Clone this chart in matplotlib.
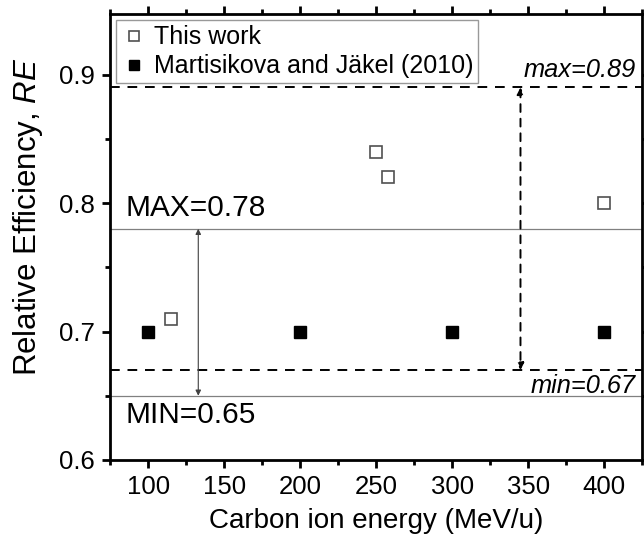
import matplotlib
matplotlib.use("Agg")
import matplotlib.pyplot as plt
from matplotlib.ticker import MultipleLocator

plt.rcParams["font.family"] = ["Liberation Sans", "DejaVu Sans"]
plt.rcParams["mathtext.fontset"] = "custom"
plt.rcParams["mathtext.rm"] = "Liberation Sans"
plt.rcParams["mathtext.it"] = "Liberation Sans:italic"

# ── Data ───────────────────────────────────────────────────────
this_energy = [115, 250, 258, 400]
this_re     = [0.71, 0.84, 0.82, 0.80]
mj_energy   = [100, 200, 300, 400]
mj_re       = [0.70, 0.70, 0.70, 0.70]

MAX_SOLID, MIN_SOLID = 0.78, 0.65
MAX_DASH,  MIN_DASH  = 0.89, 0.67
ARROW_SOLID_X = 133
ARROW_DASH_X  = 345

# ── Figure ─────────────────────────────────────────────────────
fig = plt.figure(figsize=(6.44, 5.45), dpi=100)
ax = fig.add_axes([0.171, 0.156, 0.826, 0.818])

ax.axhline(MAX_DASH, color="black", lw=1.4, ls=(0, (5, 4)), zorder=1)
ax.axhline(MIN_DASH, color="black", lw=1.4, ls=(0, (5, 4)), zorder=1)
ax.axhline(MAX_SOLID, color="#808080", lw=0.9, zorder=1)
ax.axhline(MIN_SOLID, color="#808080", lw=0.9, zorder=1)

ax.annotate("", xy=(ARROW_SOLID_X, MIN_SOLID), xytext=(ARROW_SOLID_X, MAX_SOLID),
            arrowprops=dict(arrowstyle="<|-|>", color="#404040", lw=0.8,
                            mutation_scale=8, shrinkA=0, shrinkB=0))
ax.annotate("", xy=(ARROW_DASH_X, MIN_DASH), xytext=(ARROW_DASH_X, MAX_DASH),
            arrowprops=dict(arrowstyle="<|-|>", color="black", lw=1.4,
                            ls=(0, (4, 3.5)), mutation_scale=10,
                            shrinkA=0, shrinkB=0))

ax.plot(this_energy, this_re, ls="none", marker="s", ms=8.5, mfc="white",
        mec="#505050", mew=1.2, label="This work", zorder=3)
ax.plot(mj_energy, mj_re, ls="none", marker="s", ms=8.5, mfc="black",
        mec="black", label="Martisikova and Jäkel (2010)", zorder=3)

ax.text(85, MAX_SOLID + 0.005, "MAX=0.78", fontsize=21.5, ha="left", va="bottom")
ax.text(85, MIN_SOLID - 0.004, "MIN=0.65", fontsize=21.5, ha="left", va="top")
ax.text(421, MAX_DASH + 0.004, "max=0.89", fontsize=18.3, style="italic",
        ha="right", va="bottom")
ax.text(421, MIN_DASH - 0.003, "min=0.67", fontsize=18.3, style="italic",
        ha="right", va="top")

ax.set_xlim(75, 425)
ax.set_ylim(0.6, 0.947)
ax.xaxis.set_major_locator(MultipleLocator(50))
ax.xaxis.set_minor_locator(MultipleLocator(25))
ax.yaxis.set_major_locator(MultipleLocator(0.1))
ax.yaxis.set_minor_locator(MultipleLocator(0.05))
ax.set_xticks([100, 150, 200, 250, 300, 350, 400])
ax.set_yticks([0.6, 0.7, 0.8, 0.9])
ax.set_yticklabels(["0.6", "0.7", "0.8", "0.9"])

ax.tick_params(which="both", direction="out", top=True, right=True,
               labeltop=False, labelright=False, width=2)
ax.tick_params(which="major", length=6, labelsize=18.5, pad=5)
ax.tick_params(which="minor", length=3.5)
for sp in ax.spines.values():
    sp.set_linewidth(2)

ax.set_xlabel("Carbon ion energy (MeV/u)", fontsize=20, labelpad=6)
ax.set_ylabel(r"Relative Efficiency, $\it{RE}$", fontsize=22.5)
ax.yaxis.set_label_coords(-0.122, 0.545)

leg = ax.legend(loc="upper left", fontsize=18, frameon=True, fancybox=False,
                edgecolor="#808080", handletextpad=0.3, borderpad=0.2,
                labelspacing=0.2, handlelength=1.0, borderaxespad=0.25,
                markerscale=0.85)
leg.get_frame().set_linewidth(1.0)

fig.savefig("out.png", dpi=100)
